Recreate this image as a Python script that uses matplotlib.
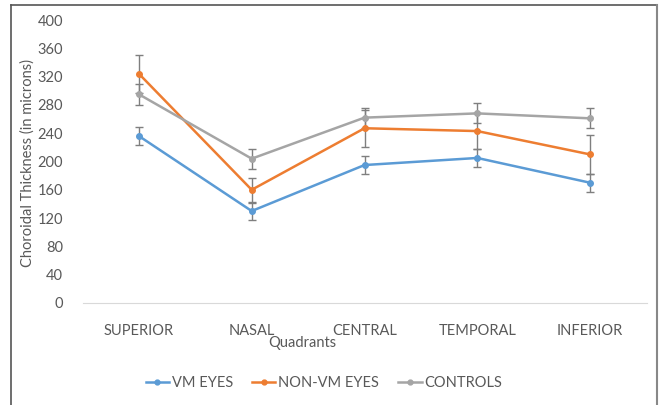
import matplotlib
matplotlib.use("Agg")
import matplotlib.pyplot as plt
from matplotlib.lines import Line2D

plt.rcParams['font.family'] = ['Lato', 'DejaVu Sans']

quadrants = ["SUPERIOR", "NASAL", "CENTRAL", "TEMPORAL", "INFERIOR"]
vm_eyes = [236, 130, 195, 205, 170]
vm_err = [13, 12, 13, 13, 13]
non_vm = [324, 160, 247, 243, 210]
non_vm_err = [27, 17, 26, 26, 27]
controls = [295, 204, 262, 268, 261]
controls_err = [15, 14, 14, 14, 14]

series = [
    ("VM EYES", vm_eyes, vm_err, "#5B9BD5"),
    ("NON-VM EYES", non_vm, non_vm_err, "#ED7D31"),
    ("CONTROLS", controls, controls_err, "#A5A5A5"),
]

txt = "#595959"

fig = plt.figure(figsize=(6.59, 4.05), dpi=100)
ax = fig.add_axes([82.5 / 659, 102 / 405, 564 / 659, 283 / 405])

x = list(range(len(quadrants)))
for name, vals, err, col in series:
    ax.errorbar(x, vals, yerr=err, color=col, ecolor="#7F7F7F", elinewidth=1.0,
                capsize=3, capthick=1.0, linewidth=1.8, marker="o", markersize=4,
                label=name, zorder=3)

ax.set_xlim(-0.5, len(quadrants) - 0.5)
ax.set_ylim(0, 400)
ax.set_yticks(range(0, 401, 40))
ax.set_xticks(x)
ax.set_xticklabels(quadrants)
ax.tick_params(axis="both", length=0, colors=txt, labelsize=10.5)
ax.tick_params(axis="x", pad=15)
ax.tick_params(axis="y", pad=14)
for s in ["top", "right", "left"]:
    ax.spines[s].set_visible(False)
ax.spines["bottom"].set_color("#D9D9D9")

fig.text(302 / 659, 1 - 343 / 405, "Quadrants", color=txt, fontsize=10.5, ha="center", va="center")
fig.text(28 / 659, 1 - 163 / 405, "Choroidal Thickness (in microns)", color=txt, fontsize=10.5,
         rotation=90, ha="center", va="center")

handles = [Line2D([], [], color=c, lw=1.8, marker="o", markersize=3.5) for _, _, _, c in series]
leg = fig.legend(handles, [s[0] for s in series], loc="center", bbox_to_anchor=(324 / 659, 22 / 405),
                 ncol=3, frameon=False, fontsize=10.5, handlelength=1.6, handletextpad=0.2,
                 columnspacing=1.3)
for t in leg.get_texts():
    t.set_color(txt)

# outer border
fig.add_artist(Line2D([11 / 659, 11 / 659], [0, 400 / 405], color="#555555", lw=1.2, transform=fig.transFigure))
fig.add_artist(Line2D([11 / 659, 657 / 659], [400 / 405, 400 / 405], color="#555555", lw=1.2, transform=fig.transFigure))
fig.add_artist(Line2D([657 / 659, 657 / 659], [0, 400 / 405], color="#888888", lw=1.5, transform=fig.transFigure))

fig.savefig("out.png", dpi=100)
